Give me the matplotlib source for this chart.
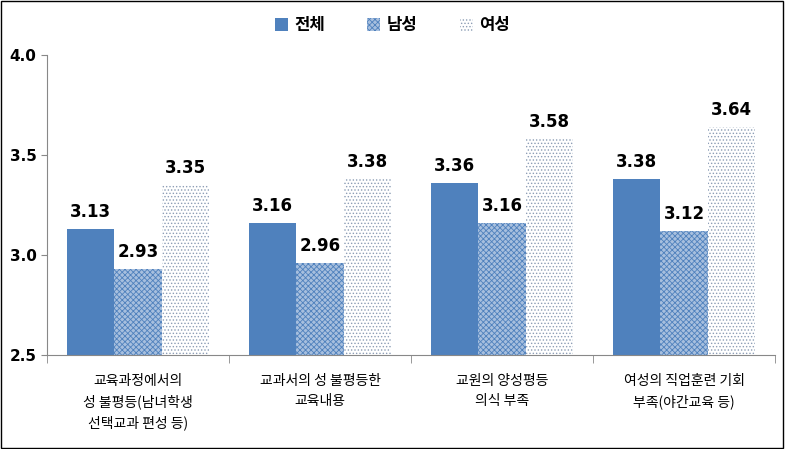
import numpy as np
import matplotlib.pyplot as plt
from matplotlib.patches import Rectangle

plt.rcParams['font.family'] = ['Noto Sans CJK JP', 'Noto Sans CJK KR', 'DejaVu Sans']

categories = ["교육과정에서의\n성 불평등(남녀학생\n선택교과 편성 등)",
              "교과서의 성 불평등한\n교육내용",
              "교원의 양성평등\n의식 부족",
              "여성의 직업훈련 기회\n부족(야간교육 등)"]
series_names = ["전체", "남성", "여성"]
total = [3.13, 3.16, 3.36, 3.38]
male = [2.93, 2.96, 3.16, 3.12]
female = [3.35, 3.38, 3.58, 3.64]

fig = plt.figure(figsize=(7.85, 4.49), dpi=100)
ax = fig.add_axes([47/785, 1-355/449, 728/785, 300/449])
fig.patches.append(Rectangle((0.001, 0.002), 0.997, 0.996, transform=fig.transFigure,
                             fill=False, edgecolor='black', lw=1))

x = np.arange(len(categories))
w = 0.26
plt.rcParams['hatch.linewidth'] = 0.6
b1 = ax.bar(x - w, total, w, color='#4F81BD', label=series_names[0])
b2 = ax.bar(x, male, w, color='#A7BFDE', hatch='xxxxxx', edgecolor='#4F81BD', lw=0, label=series_names[1])
b3 = ax.bar(x + w, female, w, color='white', hatch='.....', edgecolor='#8C9DB5', lw=0, label=series_names[2])

for bars, vals in ((b1, total), (b2, male), (b3, female)):
    for b, v in zip(bars, vals):
        ax.text(b.get_x() + b.get_width()/2, v + 0.04, f"{v:.2f}", ha='center', va='bottom',
                fontsize=12, fontweight='bold', family='DejaVu Sans')

ax.set_ylim(2.5, 4.0)
ax.set_xlim(-0.5, 3.5)
ax.set_yticks([2.5, 3.0, 3.5, 4.0])
ax.set_yticklabels(["2.5", "3.0", "3.5", "4.0"], fontsize=11, fontweight='bold', family='DejaVu Sans')
ax.set_xticks(x)
ax.set_xticklabels(categories, fontsize=10, linespacing=1.5, va='top')
ax.set_xticks(np.arange(-0.5, 4, 1), minor=True)
ax.tick_params(axis='x', which='major', length=0, pad=14)
ax.tick_params(axis='x', which='minor', length=6, color='#888888')
ax.tick_params(axis='y', length=4, color='#888888')
for s in ['top', 'right']:
    ax.spines[s].set_visible(False)
for s in ['left', 'bottom']:
    ax.spines[s].set_color('#888888')

fig.legend(handles=[b1, b2, b3], loc='center', bbox_to_anchor=(0.5, 1-25/449), ncol=3,
           frameon=False, prop={'family': 'Noto Sans CJK JP', 'size': 12, 'weight': 'bold'},
           handlelength=0.8, handleheight=0.8, columnspacing=2.5, handletextpad=0.4)

fig.savefig("out.png", dpi=100)
